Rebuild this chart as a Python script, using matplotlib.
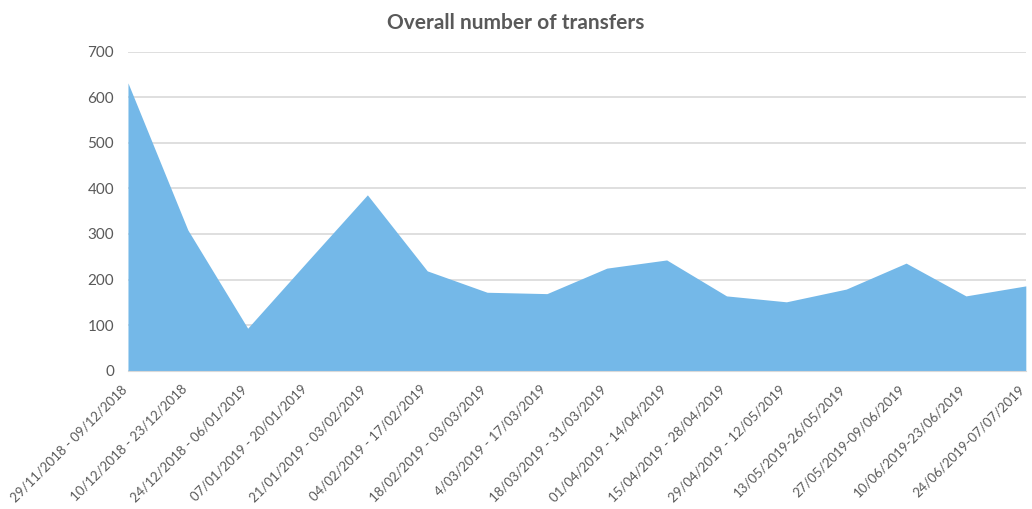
import matplotlib
matplotlib.use("Agg")
import matplotlib.pyplot as plt
from matplotlib.transforms import ScaledTranslation

periods = [
    "29/11/2018 - 09/12/2018", "10/12/2018 - 23/12/2018", "24/12/2018 - 06/01/2019",
    "07/01/2019 - 20/01/2019", "21/01/2019 - 03/02/2019", "04/02/2019 - 17/02/2019",
    "18/02/2019 - 03/03/2019", "4/03/2019 - 17/03/2019", "18/03/2019 - 31/03/2019",
    "01/04/2019 - 14/04/2019", "15/04/2019 - 28/04/2019", "29/04/2019 - 12/05/2019",
    "13/05/2019-26/05/2019", "27/05/2019-09/06/2019", "10/06/2019-23/06/2019",
    "24/06/2019-07/07/2019",
]
transfers = [632, 309, 93, 240, 386, 219, 172, 169, 225, 243, 164, 151, 179, 236, 164, 186]
yticks = [0, 100, 200, 300, 400, 500, 600, 700]

plt.rcParams['font.family'] = ['Lato', 'DejaVu Sans']

fig = plt.figure(figsize=(10.32, 5.09), dpi=100)
ax = fig.add_axes([0.124, 0.272, 0.870, 0.626])

x = list(range(len(transfers)))
ax.fill_between(x, transfers, 0, color='#74B8E8', linewidth=0, zorder=2)

ax.set_xlim(0, len(transfers) - 1)
ax.set_ylim(0, 700)
ax.set_yticks(yticks)
ax.set_yticklabels([str(v) for v in yticks], color='#595959', fontsize=11)
ax.set_xticks(x)
ax.set_xticklabels(periods, rotation=45, ha='right', va='center', rotation_mode='anchor',
                   color='#595959', fontsize=9.5)
ax.tick_params(axis='y', length=0, pad=10)
ax.tick_params(axis='x', length=0, pad=12)
offset = ScaledTranslation(-3 / 100, 0, fig.dpi_scale_trans)
for lbl in ax.get_xticklabels():
    lbl.set_transform(lbl.get_transform() + offset)
ax.grid(axis='y', color='#D9D9D9', linewidth=1.2, zorder=0)
ax.set_axisbelow(True)
for s in ['top', 'right', 'left']:
    ax.spines[s].set_visible(False)
ax.spines['bottom'].set_color('#D9D9D9')
ax.spines['bottom'].set_zorder(3)

fig.text(0.5, 0.955, "Overall number of transfers", ha='center', va='center',
         fontsize=15, fontweight='bold', color='#595959')

fig.savefig("out.png", dpi=100)
